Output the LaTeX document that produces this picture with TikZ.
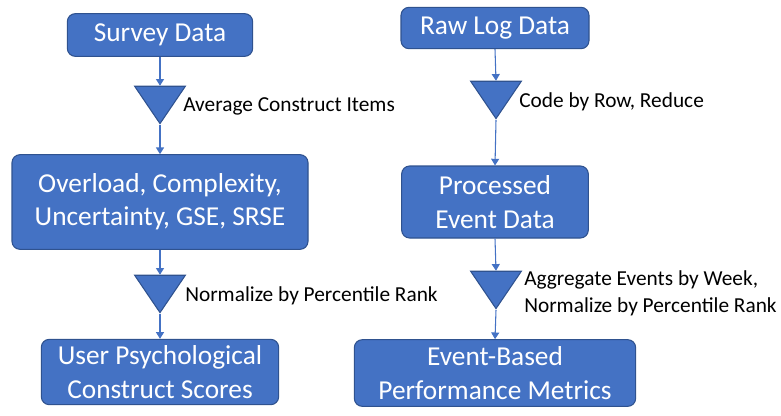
\documentclass[tikz,border=0pt]{standalone}
\usepackage{fontspec}
\setmainfont{Carlito}
\usetikzlibrary{arrows.meta,positioning,shapes.geometric}
\definecolor{boxblue}{HTML}{4472C4}
\definecolor{boxedge}{HTML}{2F528F}
\tikzset{
	%Define standard arrow tip
	>={Triangle[width=6pt,length=5pt]},
	%Define style for blue boxes
	stage/.style={
		rectangle,
		rounded corners=6pt,
		draw=boxedge, line width=0.8pt,
		fill=boxblue,
		text=white,
		align=center,
		inner sep=2pt,
		font=\fontsize{20.5}{25}\selectfont},
	% Define style for downward triangles
	funnel/.style={
		isosceles triangle,
		isosceles triangle stretches,
		shape border rotate=-90,
		draw=boxedge, line width=0.8pt,
		fill=boxblue,
		minimum width=38pt,
		minimum height=28pt,
		inner sep=0pt},
	% Define style for labels
	note/.style={
		align=left,
		inner sep=0pt,
		font=\fontsize{16}{20}\selectfont},
	% Define arrow style
	flow/.style={
		->,
		draw=boxblue,
		line width=0.8pt}
}

\begin{document}
\begin{tikzpicture}[x=0.75pt, y=-0.75pt]
	\useasboundingbox (0,0) rectangle (781,415);
	
	% left column
	\node[stage, minimum width=139pt, minimum height=32pt] (survey) at (160,35) {Survey Data};
	\node[funnel, anchor=apex] (avg) at (160,125) {};
	\node[note, anchor=west] (avg-label) at (183,106) {Average Construct Items};
	\node[stage, minimum width=222pt, minimum height=71pt] (constructs) at (160,202) {Overload, Complexity,\\Uncertainty, GSE, SRSE};
	\node[funnel, anchor=apex] (norm) at (160,314) {};
	\node[note, anchor=west] (norm-label) at (185,296) {Normalize by Percentile Rank};
	\node[stage, minimum width=178pt, minimum height=49pt] (scores) at (160,372) {User Psychological\\Construct Scores};
	
	% right column
	\node[stage, minimum width=141pt, minimum height=31pt] (rawlog) at (495,28) {Raw Log Data};
	\node[funnel, anchor=apex] (code) at (496,120) {};
	\node[note, anchor=west] (code-label) at (519,102) {Code by Row, Reduce};
	\node[stage, minimum width=140pt, minimum height=54pt] (events) at (495,202) {Processed\\Event Data};
	\node[funnel, anchor=apex] (aggr) at (496,310) {};
	\node[note, anchor=west] (aggr-label) at (524,293) {Aggregate Events by Week,\\Normalize by Percentile Rank};
	\node[stage, minimum width=211pt, minimum height=50pt] (metrics) at (495,373) {Event-Based\\Performance Metrics};
	
	\draw[flow] (survey.south) -- (avg.lower side);
	\draw[flow] (avg.apex) -- (constructs.north);
	\draw[flow] (constructs.south) -- (norm.lower side);
	\draw[flow] (norm.apex) -- (scores.north);
	
	\draw[flow] (rawlog.south) -- (code.lower side);
	\draw[flow] (code.apex) -- (events.north);
	\draw[flow] (events.south) -- (aggr.lower side);
	\draw[flow] (aggr.apex) -- (metrics.north);
\end{tikzpicture}
\end{document}
